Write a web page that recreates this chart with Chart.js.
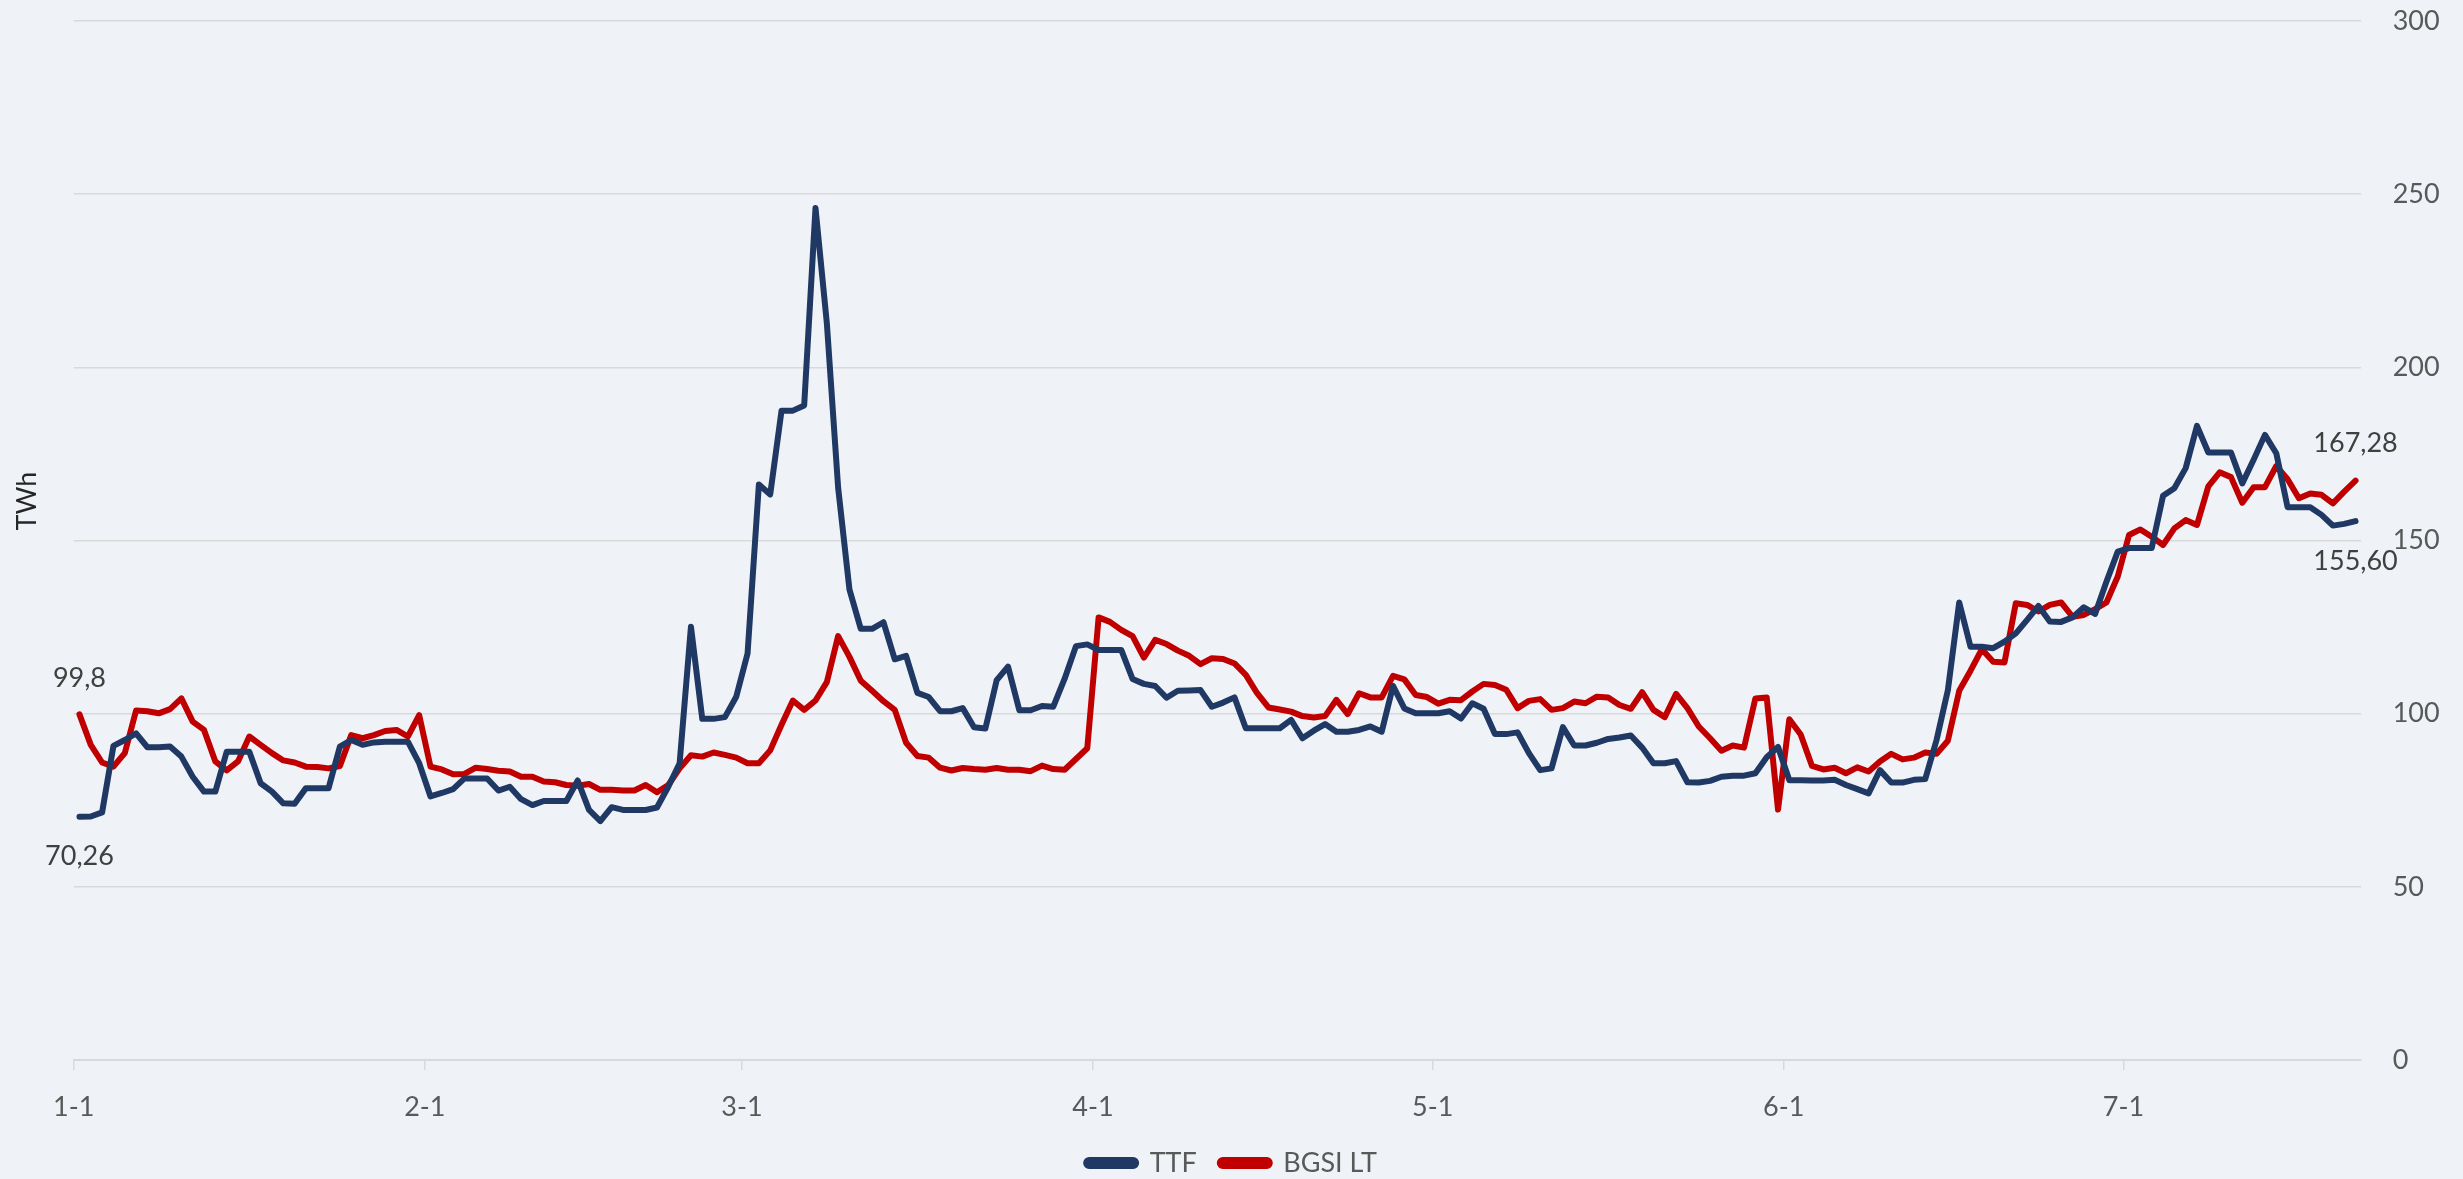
<!DOCTYPE html>
<html>
<head>
<meta charset="utf-8">
<script src="https://cdn.jsdelivr.net/npm/chart.js@4.4.1/dist/chart.umd.min.js"></script>
<style>
  html, body { margin: 0; padding: 0; background: #eff3f7; }
  #wrap { width: 2463px; height: 1179px; }
</style>
</head>
<body>
<div id="wrap"><canvas id="c" width="2463" height="1179"></canvas></div>
<script>
// ---- data (daily, Jan 1 = day 0) ----
const monthLabels = ['1-1', '2-1', '3-1', '4-1', '5-1', '6-1', '7-1'];
const monthStartDay = [0, 31, 59, 90, 120, 151, 181];
const seriesNames = ['TTF', 'BGSI LT'];

const ttf = [
  70.26, 70.3, 71.5, 90.7, 92.4, 94.3, 90.3, 90.3, 90.5, 87.6,
  81.8, 77.5, 77.5, 89.0, 89.0, 89.0, 79.9, 77.5, 74.1, 74.0,
  78.5, 78.5, 78.5, 90.5, 92.4, 91.0, 91.7, 91.9, 91.9, 91.9,
  85.7, 76.1, 77.1, 78.2, 81.3, 81.3, 81.3, 77.8, 78.9, 75.3,
  73.6, 74.8, 74.8, 74.8, 80.7, 72.2, 69.0, 73.0, 72.2, 72.2,
  72.2, 72.9, 78.9, 85.7, 125.1, 98.5, 98.5, 99.0, 104.9, 117.4,
  166.2, 163.3, 187.5, 187.5, 189.0, 246.0, 212.8, 165.2, 135.8, 124.5,
  124.5, 126.4, 115.7, 116.7, 106.0, 104.8, 100.7, 100.7, 101.6, 96.1,
  95.7, 109.7, 113.6, 101.0, 101.0, 102.2, 102.0, 110.1, 119.5, 120.0,
  118.4, 118.4, 118.4, 110.0, 108.6, 108.0, 104.6, 106.6, 106.7, 106.8,
  102.0, 103.2, 104.7, 95.8, 95.8, 95.8, 95.8, 98.2, 92.9, 95.1,
  97.0, 94.8, 94.8, 95.3, 96.3, 94.8, 108.0, 101.5, 100.1, 100.1,
  100.1, 100.7, 98.6, 103.0, 101.4, 94.1, 94.1, 94.6, 88.6, 83.7,
  84.2, 96.1, 90.8, 90.8, 91.6, 92.7, 93.1, 93.7, 90.2, 85.7,
  85.7, 86.3, 80.2, 80.1, 80.6, 81.8, 82.1, 82.1, 82.8, 87.4,
  90.4, 80.8, 80.8, 80.7, 80.7, 80.9, 79.4, 78.2, 77.0, 83.7,
  80.1, 80.1, 80.9, 81.1, 92.4, 106.8, 132.1, 119.3, 119.3, 118.9,
  120.8, 123.2, 127.1, 131.1, 126.6, 126.5, 127.8, 130.7, 128.8, 138.1,
  146.8, 147.8, 147.8, 147.8, 162.9, 165.1, 170.9, 183.1, 175.4, 175.4,
  175.4, 166.5, 173.3, 180.5, 175.2, 159.6, 159.6, 159.6, 157.4, 154.3,
  154.8, 155.6
];

const bgsi = [
  99.8, 91.0, 85.9, 84.7, 88.6, 100.9, 100.7, 100.1, 101.3, 104.4,
  97.7, 95.3, 86.2, 83.6, 86.2, 93.4, 91.0, 88.6, 86.5, 85.9,
  84.7, 84.6, 84.2, 84.9, 93.8, 92.9, 93.8, 95.0, 95.3, 93.4,
  99.6, 84.7, 83.9, 82.5, 82.6, 84.4, 84.0, 83.5, 83.3, 81.8,
  81.8, 80.4, 80.2, 79.4, 79.2, 79.7, 78.0, 78.0, 77.8, 77.8,
  79.4, 77.3, 79.4, 84.2, 88.0, 87.6, 88.8, 88.1, 87.3, 85.7,
  85.7, 89.4, 96.8, 103.8, 101.1, 103.8, 109.1, 122.4, 116.4, 109.5,
  106.6, 103.6, 101.1, 91.6, 87.8, 87.3, 84.4, 83.6, 84.3, 84.0,
  83.8, 84.3, 83.8, 83.8, 83.4, 85.0, 84.0, 83.8, 86.9, 90.0,
  127.8, 126.5, 124.2, 122.4, 116.2, 121.3, 120.1, 118.2, 116.7, 114.3,
  116.0, 115.8, 114.5, 111.2, 105.9, 101.8, 101.2, 100.6, 99.3, 98.9,
  99.3, 104.0, 99.9, 105.9, 104.7, 104.7, 110.9, 109.9, 105.4, 104.8,
  102.9, 104.0, 103.9, 106.4, 108.6, 108.3, 106.9, 101.6, 103.7, 104.2,
  101.1, 101.6, 103.5, 103.0, 104.9, 104.7, 102.5, 101.4, 106.2, 101.1,
  99.0, 105.7, 101.6, 96.3, 92.9, 89.3, 90.8, 90.2, 104.4, 104.7,
  72.3, 98.4, 94.0, 84.9, 83.9, 84.4, 82.8, 84.5, 83.3, 86.2,
  88.4, 86.8, 87.3, 88.8, 88.4, 92.2, 106.6, 112.4, 118.6, 115.0,
  114.8, 131.9, 131.4, 129.5, 131.4, 132.1, 128.0, 128.5, 130.2, 132.1,
  139.6, 151.6, 153.2, 151.1, 148.7, 153.5, 155.9, 154.5, 165.6, 169.7,
  168.3, 160.9, 165.4, 165.4, 171.5, 167.7, 162.2, 163.6, 163.2, 160.7,
  164.1, 167.28
];

// first / last value labels as shown on the chart
const ttfEndLabels = ['70,26', '155,60'];
const bgsiEndLabels = ['99,8', '167,28'];

const yTicks = [0, 50, 100, 150, 200, 250, 300];
const yTitle = 'TWh';

// ---- styling ----
const FONT = 'Lato';
const BG = '#eff3f7';
const GRID = '#d9d9d9';
const TICK_COLOR = '#595959';
const TTF_COLOR = '#203864';
const BGSI_COLOR = '#c00000';

const bgPlugin = {
  id: 'bg',
  beforeDraw(chart) {
    const ctx = chart.ctx;
    ctx.save();
    ctx.fillStyle = BG;
    ctx.fillRect(0, 0, chart.width, chart.height);
    ctx.restore();
  }
};

const labelPlugin = {
  id: 'endLabels',
  afterDatasetsDraw(chart) {
    const ctx = chart.ctx;
    const xs = chart.scales.x, ys = chart.scales.y;
    ctx.save();
    ctx.font = '27px ' + FONT;
    ctx.fillStyle = '#404040';
    ctx.textAlign = 'center';
    ctx.textBaseline = 'middle';
    const n1 = ttf.length - 1, n2 = bgsi.length - 1;
    ctx.fillText(ttfEndLabels[0], xs.getPixelForValue(0), ys.getPixelForValue(ttf[0]) + 40);
    ctx.fillText(ttfEndLabels[1], xs.getPixelForValue(n1), ys.getPixelForValue(ttf[n1]) + 40);
    ctx.fillText(bgsiEndLabels[0], xs.getPixelForValue(0), ys.getPixelForValue(bgsi[0]) - 36);
    ctx.fillText(bgsiEndLabels[1], xs.getPixelForValue(n2), ys.getPixelForValue(bgsi[n2]) - 37);
    // axis title on the left
    const ca = chart.chartArea;
    ctx.translate(27, ca.top + (ca.bottom - ca.top) * 0.462);
    ctx.rotate(-Math.PI / 2);
    ctx.fillStyle = '#262626';
    ctx.fillText(yTitle, 0, 0);
    ctx.restore();
  }
};

const toPoints = arr => arr.map((v, i) => ({ x: i, y: v }));

new Chart(document.getElementById('c'), {
  type: 'line',
  data: {
    datasets: [
      {
        label: seriesNames[0],
        data: toPoints(ttf),
        borderColor: TTF_COLOR,
        backgroundColor: TTF_COLOR,
        borderWidth: 6,
        pointRadius: 0,
        tension: 0,
        borderCapStyle: 'round',
        borderJoinStyle: 'round'
      },
      {
        label: seriesNames[1],
        data: toPoints(bgsi),
        borderColor: BGSI_COLOR,
        backgroundColor: BGSI_COLOR,
        borderWidth: 6,
        pointRadius: 0,
        tension: 0,
        borderCapStyle: 'round',
        borderJoinStyle: 'round'
      }
    ]
  },
  options: {
    responsive: false,
    animation: false,
    devicePixelRatio: 1,
    layout: { padding: { left: 0, right: 0, top: 21, bottom: -7.5 } },
    plugins: {
      legend: {
        position: 'bottom',
        labels: {
          font: { family: FONT, size: 27 },
          color: TICK_COLOR,
          boxWidth: 50,
          boxHeight: 6,
          useBorderRadius: true,
          borderRadius: 3,
          padding: 23
        }
      },
      tooltip: { enabled: false }
    },
    scales: {
      x: {
        type: 'linear',
        min: -0.5,
        max: ttf.length - 0.5,
        afterBuildTicks(scale) {
          scale.ticks = monthStartDay.map(d => ({ value: d - 0.5 }));
        },
        afterFit(scale) { scale.height = 66.5; },
        ticks: {
          autoSkip: false,
          maxRotation: 0,
          padding: 21,
          color: TICK_COLOR,
          font: { family: FONT, size: 27 },
          callback: (val, idx) => monthLabels[idx]
        },
        grid: {
          drawOnChartArea: false,
          drawTicks: true,
          tickLength: 10,
          color: GRID,
          lineWidth: 1.5
        },
        border: { display: true, color: GRID, width: 2 }
      },
      yLeft: {
        position: 'left',
        min: 0,
        max: 300,
        afterFit(scale) { scale.width = 73.8; },
        ticks: { display: false, padding: 0 },
        grid: { display: false, drawTicks: false },
        border: { display: false }
      },
      y: {
        position: 'right',
        min: 0,
        max: 300,
        afterBuildTicks(scale) {
          scale.ticks = yTicks.map(v => ({ value: v }));
        },
        afterFit(scale) { scale.width = 101.8; },
        ticks: {
          padding: 0,
          color: TICK_COLOR,
          font: { family: FONT, size: 27 }
        },
        grid: {
          color: GRID,
          lineWidth: 1.5,
          drawTicks: true,
          tickLength: 31.5,
          tickColor: 'rgba(0,0,0,0)'
        },
        border: { display: false }
      }
    }
  },
  plugins: [bgPlugin, labelPlugin]
});
</script>
</body>
</html>
